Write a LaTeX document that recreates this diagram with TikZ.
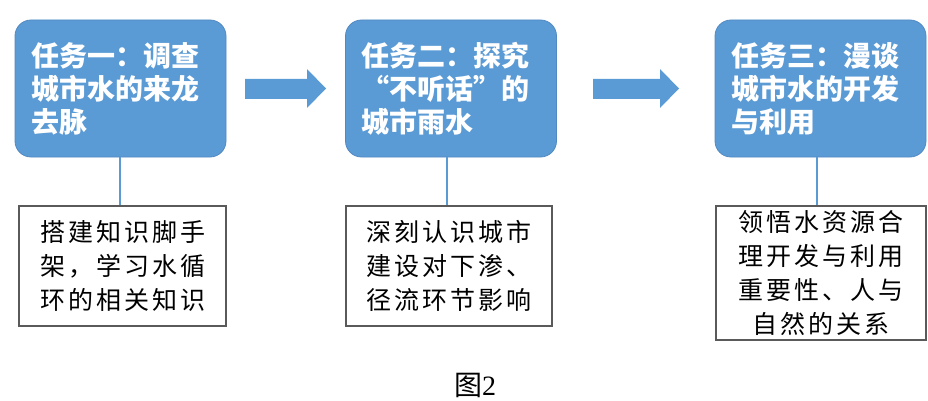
\documentclass[tikz,border=0pt]{standalone}
\usepackage{fontspec}
\setmainfont{Liberation Serif}
\newfontfamily\cjk{Noto Sans CJK SC}
\newfontfamily\cjkls{Noto Sans CJK SC}[LetterSpace=12]
\definecolor{taskblue}{HTML}{5B9BD5}
\definecolor{taskedge}{HTML}{5189C2}
\definecolor{boxgray}{HTML}{5A5A5A}
\tikzset{
  taskbox/.style={draw=taskedge, line width=0.8pt, fill=taskblue, rounded corners=16pt,
    minimum width=211pt, minimum height=137pt, inner xsep=16pt, text width=179pt,
    align=left, text=white, font=\cjk\bfseries\fontsize{28}{33}\selectfont},
  descbox/.style={draw=boxgray, line width=1.2pt, fill=white, inner sep=0pt,
    align=center, font=\cjkls\fontsize{25}{34}\selectfont},
  conn/.style={draw=taskblue, line width=1.6pt},
  bigarrow/.style={fill=taskblue, draw=none}
}
\begin{document}
\begin{tikzpicture}[x=1pt,y=-1pt]
\useasboundingbox (0,0) rectangle (928,401);
% task boxes
\node[taskbox] (t1) at (120.5,88.5) {任务一：调查\\城市水的来龙\\去脉};
\node[taskbox] (t2) at (451,88.5) {任务二：探究\\“不听话”的\\城市雨水};
\node[taskbox] (t3) at (820.5,88.5) {任务三：漫谈\\城市水的开发\\与利用};
% description boxes
\node[descbox, minimum width=207pt, minimum height=120pt] (d1) at (122.5,266) {搭建知识脚手\\架，学习水循\\环的相关知识};
\node[descbox, minimum width=206pt, minimum height=120pt] (d2) at (449,266) {深刻认识城市\\建设对下渗、\\径流环节影响};
\node[descbox, minimum width=210pt, minimum height=134pt] (d3) at (821,273) {领悟水资源合\\理开发与利用\\重要性、人与\\自然的关系};
% connectors
\coordinate (c1) at (120,157);
\coordinate (c2) at (447,157);
\coordinate (c3) at (817,157);
\draw[conn] (c1) -- (c1 |- d1.north);
\draw[conn] (c2) -- (c2 |- d2.north);
\draw[conn] (c3) -- (c3 |- d3.north);
% block arrows
\fill[bigarrow] (245,79) -- (307,79) -- (307,69) -- (326,88.5) -- (307,108) -- (307,99) -- (245,99) -- cycle;
\fill[bigarrow] (593,79) -- (660,79) -- (660,69) -- (679,88.5) -- (660,108) -- (660,99) -- (593,99) -- cycle;
% caption
\node[font=\fontsize{28}{30}\selectfont, inner sep=0pt] (cap) at (475,385) {{\cjk 图}2};
\end{tikzpicture}
\end{document}
